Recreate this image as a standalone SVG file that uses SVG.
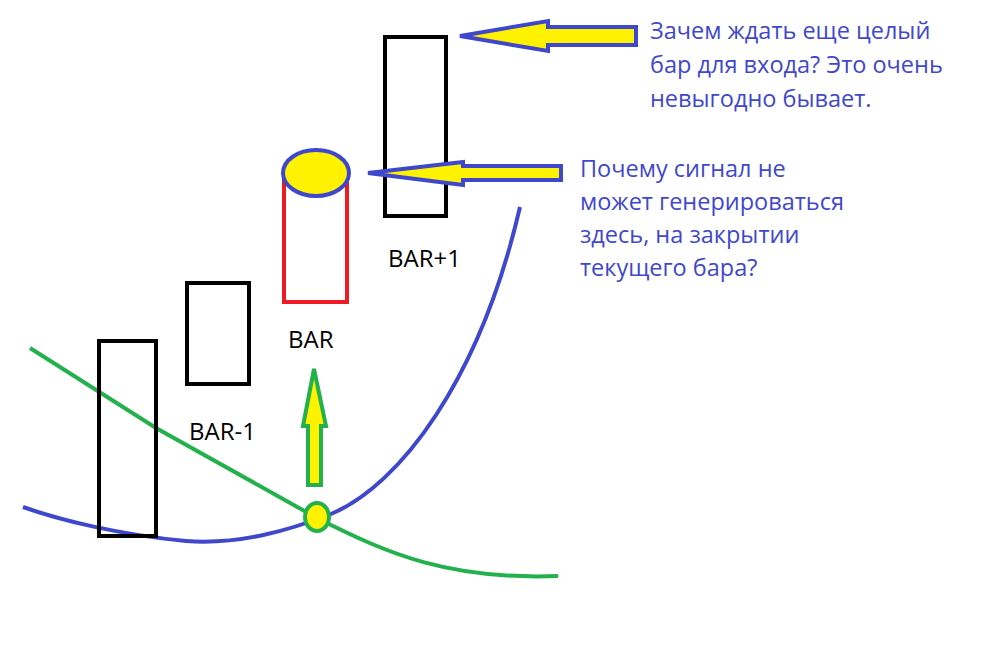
<svg xmlns="http://www.w3.org/2000/svg" width="1000" height="666" viewBox="0 0 1000 666">
<style>
.bar{fill:none;stroke:#000;stroke-width:4}
.lbl{font-family:"Open Sans","Noto Sans",sans-serif;font-size:24px;fill:#000}
.note{font-family:"Open Sans","Noto Sans",sans-serif;font-size:23.5px;fill:#3f48cc}
.arrB{fill:#fff200;stroke:#3f48cc;stroke-width:4;stroke-linejoin:miter}
</style>
<rect width="1000" height="666" fill="#fff"/>
<g id="connectors">
<path d="M23,507 C60,520 120,535 186,541 C240,545 290,530 331,514 C400,485 480,380 520,207" fill="none" stroke="#3f48cc" stroke-width="4"/>
<path d="M30,348 L156,428 L317,518 C390,555 450,580 558,576" fill="none" stroke="#22b14c" stroke-width="4"/>
</g>
<g id="bar-minus-2"><rect class="bar" x="99" y="341" width="57" height="195"/></g>
<g id="bar-minus-1"><rect class="bar" x="187" y="283" width="62" height="101"/><text class="lbl" x="189" y="440">BAR-1</text></g>
<g id="bar">
<path d="M284,172 L284,302 L347,302 L347,172" fill="none" stroke="#ed1c24" stroke-width="4"/>
<ellipse cx="316" cy="173" rx="33" ry="23" fill="#fff200" stroke="#3f48cc" stroke-width="4"/>
<text class="lbl" x="288" y="348">BAR</text>
</g>
<g id="bar-plus-1"><rect class="bar" x="385" y="37" width="61" height="179"/><text class="lbl" x="388" y="267">BAR+1</text></g>
<g id="arrow-top"><path class="arrB" d="M460,36 L548,21 L548,27 L636,27 L636,45 L548,45 L548,51 Z"/></g>
<g id="arrow-mid"><path class="arrB" d="M368,173 L463,162 L463,166 L561,166 L561,180 L463,180 L463,185 Z"/></g>
<g id="signal">
<path d="M314,369 L326,426 L321,426 L321,485 L308,485 L308,426 L303,426 Z" fill="#fff200" stroke="#22b14c" stroke-width="4"/>
<ellipse cx="317" cy="517" rx="12" ry="14" fill="#fff200" stroke="#22b14c" stroke-width="4"/>
</g>
<g id="note-top">
<text class="note" x="650" y="39">Зачем ждать еще целый</text>
<text class="note" x="650" y="73">бар для входа? Это очень</text>
<text class="note" x="650" y="107">невыгодно бывает.</text>
</g>
<g id="note-mid">
<text class="note" x="580" y="177">Почему сигнал не</text>
<text class="note" x="580" y="210">может генерироваться</text>
<text class="note" x="580" y="243">здесь, на закрытии</text>
<text class="note" x="580" y="276">текущего бара?</text>
</g>
</svg>
